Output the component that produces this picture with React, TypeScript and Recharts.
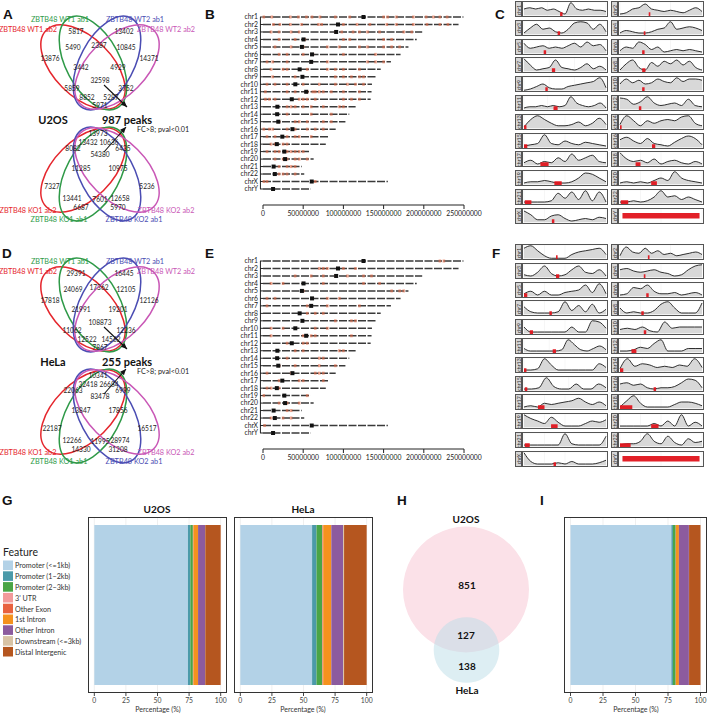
import React from 'react';
import {
  ScatterChart, Scatter, XAxis, YAxis, ReferenceLine, ReferenceArea,
  AreaChart, Area, CartesianGrid, BarChart, Bar, PieChart, Pie, Cell,
} from 'recharts';

const SANS = 'Lato, "Open Sans", "DejaVu Sans", sans-serif';
const HEAD = '"Liberation Sans", Arial, sans-serif';

// ---------------- Panel A / D : four-set Venn diagrams ----------------
const SET_NAMES_WT = ['ZBTB48 WT1 ab2', 'ZBTB48 WT1 ab1', 'ZBTB48 WT2 ab1', 'ZBTB48 WT2 ab2'];
const SET_NAMES_KO = ['ZBTB48 KO1 ab2', 'ZBTB48 KO1 ab1', 'ZBTB48 KO2 ab1', 'ZBTB48 KO2 ab2'];
const U2OS_WT_COUNTS = [5817, 13402, 5490, 2387, 10845, 13876, 14371, 3442, 4929, 32598, 5859, 3752, 8852, 5287, 5971];
const U2OS_KO_COUNTS = [13973, 13432, 10636, 8082, 6435, 54380, 11285, 10975, 7327, 5236, 13441, 7601, 12658, 6687, 5970];
const HELA_WT_COUNTS = [29391, 16445, 24069, 17362, 12105, 17818, 12126, 21991, 19201, 108873, 11062, 12236, 12522, 14562, 7867];
const HELA_KO_COUNTS = [10341, 32418, 26684, 22063, 6999, 83478, 13847, 17856, 22187, 16517, 12266, 11995, 28974, 14330, 31208];
const CELL_LINES = ['U2OS', 'HeLa'];
const COMMON_PEAKS = [987, 255];
const FILTER_TEXT = 'FC>8; pval<0.01';

// layout (pixels inside a 200x240 venn box)
const SET_COLORS = ['#e5262d', '#2f9a48', '#4b4db3', '#c957b6'];
const VENN_TOP_POS = [[76, 31], [124, 31], [73, 47], [99, 45], [126, 47], [50, 58], [149, 58], [81, 67], [118, 67], [100, 80], [72, 88], [126, 88], [87, 97], [111, 97], [100, 105]];
const VENN_BOT_POS = [[98, 133], [88, 142], [109, 142], [73, 148], [123, 148], [100, 154], [81, 168], [118, 168], [52, 186], [147, 186], [72, 198], [100, 199], [120, 198], [81, 207], [118, 207]];
const ELLIPSE_GEOM = [
  { cx: 83, cy: 67, rx: 52, ry: 29, rot: 45 },
  { cx: 93, cy: 63, rx: 51, ry: 27, rot: 62 },
  { cx: 107, cy: 63, rx: 51, ry: 27, rot: -62 },
  { cx: 117, cy: 67, rx: 52, ry: 29, rot: -45 },
];
const MIRROR_Y = 237;
const NAME_POS_TOP = [[28, 29], [60, 19], [135, 19], [166, 29]];
const NAME_POS_BOT = [[28, 210], [59, 219], [134, 219], [166, 210]];

const EllipseShape = (p: any) => {
  const d = p.payload;
  return (
    <ellipse cx={p.cx} cy={p.cy} rx={d.rx} ry={d.ry}
      transform={`rotate(${d.rot} ${p.cx} ${p.cy})`}
      fill="none" stroke={d.color} strokeWidth={1.5} />
  );
};
const TextShape = (p: any) => {
  const d = p.payload;
  return (
    <text x={p.cx} y={p.cy} textAnchor={d.anchor || 'middle'} dominantBaseline="central"
      fontSize={d.size} fontWeight={d.weight || 400} fill={d.color || '#222'} fontFamily={SANS}>
      {d.label}
    </text>
  );
};
const ArrowShape = (p: any) => {
  const d = p.payload;
  if (!d.head) return <g />;
  const a = d.angle;
  const L = 6, W = 2.6;
  const bx = p.cx - L * Math.cos(a), by = p.cy - L * Math.sin(a);
  const pts = `${p.cx},${p.cy} ${bx - W * Math.sin(a)},${by + W * Math.cos(a)} ${bx + W * Math.sin(a)},${by - W * Math.cos(a)}`;
  return <polygon points={pts} fill="#111" />;
};
const ARROWS = [
  [[104, 85], [127, 107]],
  [[104, 152], [126, 127]],
];

function VennPanel({ top, countsTop, countsBottom, namesTop, namesBottom, cell, peaks }: any) {
  const ellipses = [
    ...ELLIPSE_GEOM.map((g, i) => ({ x: g.cx, y: g.cy, rx: g.rx, ry: g.ry, rot: g.rot, color: SET_COLORS[i] })),
    ...ELLIPSE_GEOM.map((g, i) => ({ x: g.cx, y: MIRROR_Y - g.cy, rx: g.rx, ry: g.ry, rot: -g.rot, color: SET_COLORS[i] })),
  ];
  const texts = [
    ...countsTop.map((c: number, i: number) => ({ x: VENN_TOP_POS[i][0], y: VENN_TOP_POS[i][1], label: String(c), size: 6.6, color: '#222' })),
    ...countsBottom.map((c: number, i: number) => ({ x: VENN_BOT_POS[i][0], y: VENN_BOT_POS[i][1], label: String(c), size: 6.6, color: '#222' })),
    ...namesTop.map((n: string, i: number) => ({ x: NAME_POS_TOP[i][0], y: NAME_POS_TOP[i][1], label: n, size: 7.3, color: SET_COLORS[i] })),
    ...namesBottom.map((n: string, i: number) => ({ x: NAME_POS_BOT[i][0], y: NAME_POS_BOT[i][1], label: n, size: 7.3, color: SET_COLORS[i] })),
    { x: 53, y: 119, label: cell, size: 11, weight: 700, color: '#111' },
    { x: 127, y: 119, label: `${peaks} peaks`, size: 11, weight: 700, color: '#111' },
    { x: 137, y: 129, label: FILTER_TEXT, size: 7.2, anchor: 'start', color: '#222' },
  ];
  return (
    <div style={{ position: 'absolute', left: 0, top, width: 200, height: 240 }}>
      <ScatterChart width={200} height={240} margin={{ top: 0, right: 0, bottom: 0, left: 0 }}>
        <XAxis type="number" dataKey="x" domain={[0, 200]} hide />
        <YAxis type="number" dataKey="y" domain={[0, 240]} reversed hide />
        <Scatter data={ellipses} shape={EllipseShape} isAnimationActive={false} />
        {ARROWS.map((ar, k) => {
          const ang = Math.atan2(ar[1][1] - ar[0][1], ar[1][0] - ar[0][0]);
          const data = [
            { x: ar[0][0], y: ar[0][1], head: false, angle: ang },
            { x: ar[1][0], y: ar[1][1], head: true, angle: ang },
          ];
          return <Scatter key={k} data={data} line={{ stroke: '#111', strokeWidth: 1.1 }} lineType="joint" shape={ArrowShape} isAnimationActive={false} />;
        })}
        <Scatter data={texts} shape={TextShape} isAnimationActive={false} />
      </ScatterChart>
    </div>
  );
}

// ---------------- Panel B / E : peaks along chromosomes ----------------
const CHR_NAMES = ['chr1', 'chr2', 'chr3', 'chr4', 'chr5', 'chr6', 'chr7', 'chr8', 'chr9', 'chr10', 'chr11', 'chr12', 'chr13', 'chr14', 'chr15', 'chr16', 'chr17', 'chr18', 'chr19', 'chr20', 'chr21', 'chr22', 'chrX', 'chrY'];
const CHR_LEN_MB = [249.3, 243.2, 198.0, 191.2, 180.9, 171.1, 159.1, 146.4, 141.2, 135.5, 135.0, 133.9, 115.2, 107.3, 102.5, 90.4, 81.2, 78.1, 59.1, 63.0, 48.1, 51.3, 155.3, 59.4];
const CEN_MB = [125, 93.3, 91, 50.4, 48.4, 61, 59.9, 45.6, 49, 40.2, 53.7, 35.8, 17.9, 17.6, 19, 36.6, 24, 17.2, 26.5, 27.5, 13.2, 14.7, 60.6, 12.5];
const GENOME_TICKS = [0, 50000000, 100000000, 150000000, 200000000, 250000000];
const U2OS_PEAKS_MB = [
  [1, 11, 34, 44, 54, 61, 71, 90, 108, 150, 155, 166, 187, 203, 212, 220, 229],
  [13, 21, 34, 48, 69, 73, 100, 117, 133, 154, 166, 187, 204, 220, 230],
  [10, 20, 35, 45, 90, 98, 112, 120, 130, 145, 175, 185],
  [20, 40, 52, 100, 108, 150, 160],
  [15, 35, 50, 80, 95, 120, 130, 150, 160, 170],
  [20, 30, 50, 62, 100, 140],
  [5, 12, 30, 60, 80, 130, 140, 150],
  [10, 25, 30, 55, 80, 90, 100, 120],
  [12, 40, 90, 100, 110, 120, 125],
  [5, 15, 30, 50, 70, 90, 105, 115, 125],
  [3, 30, 40, 55, 62, 65, 70, 75, 85, 100, 120],
  [3, 8, 15, 45, 50, 55, 65, 100, 110, 120],
  [30, 35, 40, 50, 60, 75, 95, 100],
  [30, 60, 85],
  [20, 40, 45, 55, 75, 85],
  [1, 8, 12, 30, 40, 55, 65, 75],
  [5, 15, 24, 30, 40, 45, 60],
  [10, 15, 25, 30],
  [5, 15, 20, 30, 35, 40, 45, 50],
  [15, 25, 30, 40, 45, 55],
  [20, 30, 35, 40],
  [20, 25, 30, 40],
  [1, 5, 65],
  [],
];
const HELA_PEAKS_MB = [
  [220, 225],
  [70, 75, 80, 100, 115],
  [40, 60, 75, 90, 105, 125, 135],
  [10, 25, 50, 75, 125, 145],
  [50, 160, 170, 175],
  [5, 15, 80, 95],
  [5, 55, 80, 120],
  [55, 65, 75],
  [90, 110, 115],
  [10, 25, 65, 80],
  [10, 50, 60, 65, 110],
  [30, 50, 55],
  [40, 50, 95, 100],
  [30, 70, 75],
  [20, 40, 70, 90],
  [5, 35, 65, 70, 75],
  [20, 45, 50, 75],
  [5, 10, 20],
  [1, 55],
  [20, 30, 45],
  [30, 35],
  [10, 25, 35],
  [2],
  [],
];

const PeakShape = (p: any) => <rect x={p.cx - 1.3} y={p.cy - 1.5} width={2.6} height={3} fill="#e26a48" fillOpacity={0.6} />;
const CenShape = (p: any) => <rect x={p.cx - 2} y={p.cy - 2} width={4} height={4} fill="#111" />;

function ChromPanel({ top, peaks }: any) {
  const peakData = peaks.flatMap((arr: number[], i: number) => arr.map((m) => ({ x: m * 1e6, y: i })));
  const cenData = CEN_MB.map((c, i) => ({ x: c * 1e6, y: i }));
  return (
    <div style={{ position: 'absolute', left: 233, top, width: 256, height: 228 }}>
      <ScatterChart width={256} height={228} margin={{ top: 17, right: 25, bottom: 0, left: 0 }}>
        <XAxis type="number" dataKey="x" domain={[0, 250000000]} ticks={GENOME_TICKS} interval={0}
          tickFormatter={(v: number) => String(v)} tickSize={4} height={23}
          axisLine={{ stroke: '#222' }} tickLine={{ stroke: '#222' }}
          tick={{ fontSize: 6.8, fill: '#222', fontFamily: SANS }} />
        <YAxis type="number" dataKey="y" domain={[0, 25.14]} reversed ticks={CHR_NAMES.map((_, i) => i)} interval={0}
          tickFormatter={(v: number) => CHR_NAMES[v] || ''} width={30} axisLine={false} tickSize={3}
          tickLine={{ stroke: '#222' }} tick={{ fontSize: 6.8, fill: '#222', fontFamily: SANS }} />
        <ReferenceLine segment={[{ x: -3200000, y: 0 }, { x: -3200000, y: 23 }]} ifOverflow="visible" stroke="#222" strokeWidth={1} />
        {CHR_LEN_MB.map((len, i) => (
          <ReferenceLine key={i} segment={[{ x: 0, y: i }, { x: len * 1e6, y: i }]}
            stroke="#3a3a3a" strokeWidth={1.5} strokeDasharray="8 1.5" />
        ))}
        <Scatter data={peakData} shape={PeakShape} isAnimationActive={false} />
        <Scatter data={cenData} shape={CenShape} isAnimationActive={false} />
      </ScatterChart>
    </div>
  );
}

// ---------------- Panel C / F : peak density per chromosome ----------------
const U2OS_DENSITY = [
  [5, 6, 5, 6, 4, 5, 3, 1, 10, 5, 4, 5, 4, 4, 3],
  [1, 2, 5, 6, 9, 5, 4, 3, 4, 3, 2, 4, 6, 3],
  [1, 5, 8, 4, 5, 2, 1, 4, 9, 10, 9, 4, 8, 2],
  [1, 3, 2, 1, 1, 2, 4, 5, 10, 4, 5, 6, 5, 3],
  [8, 4, 5, 6, 4, 5, 4, 6, 8, 5, 9, 6, 7, 2],
  [2, 5, 4, 9, 7, 3, 5, 1, 2, 3, 2, 3, 2, 1],
  [10, 5, 1, 2, 3, 9, 3, 2, 1, 3, 6, 2, 4, 1],
  [1, 6, 9, 3, 1, 7, 4, 8, 6, 9, 5, 8, 3, 1],
  [0, 1, 3, 5, 2, 1, 1, 3, 4, 5, 6, 7, 10, 2],
  [5, 9, 6, 8, 5, 6, 9, 7, 6, 10, 7, 9, 9, 8],
  [1, 2, 2, 3, 2, 3, 2, 3, 10, 5, 3, 2, 3, 5, 1],
  [9, 8, 4, 6, 10, 5, 3, 4, 5, 3, 8, 3, 2],
  [1, 7, 10, 7, 4, 2, 2, 3, 5, 2, 4, 8, 3],
  [3, 10, 6, 2, 6, 4, 6, 7, 6, 9, 10, 4, 2],
  [1, 2, 3, 10, 3, 2, 5, 3, 2, 4, 3, 2, 1],
  [6, 8, 5, 3, 7, 3, 2, 1, 4, 7, 9, 7, 2],
  [2, 4, 1, 3, 2, 6, 3, 9, 4, 6, 8, 3, 2],
  [10, 5, 3, 4, 2, 5, 1, 3, 4, 2, 1, 3, 1],
  [1, 2, 2, 3, 2, 1, 1, 2, 5, 9, 8, 5, 2],
  [1, 2, 1, 2, 1, 3, 5, 3, 10, 5, 3, 2, 1],
  [1, 1, 1, 1, 2, 8, 4, 9, 3, 10, 2, 9, 1],
  [1, 1, 2, 1, 2, 5, 10, 5, 6, 3, 5, 3, 1],
  [9, 6, 2, 2, 5, 6, 3, 1, 2, 3, 2, 4, 3],
  [],
];
const U2OS_MARKS = [[0.44, 0.47], [0.35, 0.37], [0.41, 0.44], [0.29, 0.31], [0.24, 0.27], [0.27, 0.3], [0.34, 0.38], [0.27, 0.31], [0.26, 0.29], [0.27, 0.3], [0.36, 0.41], [0.23, 0.26], [0, 0.03], [0, 0.02], [0, 0.04], [0.39, 0.43], [0.2, 0.3], [0.19, 0.25], [0.37, 0.46], [0.38, 0.45], [0.01, 0.09], [0.01, 0.1], [0.34, 0.37], [0.03, 0.97]];
const HELA_DENSITY = [
  [8, 10, 6, 2, 0, 0, 0, 3, 5, 6, 7, 8, 3],
  [2, 9, 5, 4, 8, 4, 6, 3, 4, 2, 3, 4, 5, 3],
  [2, 1, 4, 9, 3, 1, 2, 6, 9, 4, 3, 6, 1],
  [6, 7, 5, 4, 5, 6, 4, 3, 1, 2, 6, 9, 10],
  [2, 4, 1, 4, 1, 1, 3, 4, 5, 9, 3, 10, 2],
  [1, 2, 7, 6, 9, 4, 2, 2, 3, 1, 2, 3, 1],
  [6, 2, 1, 1, 1, 2, 10, 3, 7, 2, 8, 1, 4],
  [5, 1, 2, 1, 1, 3, 8, 10, 5, 1, 1, 1, 9],
  [5, 1, 1, 1, 1, 1, 1, 5, 1, 1, 10, 9, 4],
  [3, 4, 3, 5, 2, 1, 9, 4, 5, 5, 5, 5],
  [3, 1, 1, 1, 1, 1, 2, 10, 6, 2, 1, 3, 5, 2],
  [1, 1, 2, 4, 3, 7, 10, 1, 1, 1, 3, 3, 3],
  [1, 1, 2, 10, 5, 1, 1, 1, 1, 1, 1, 6, 3],
  [2, 10, 4, 6, 5, 3, 4, 3, 5, 4, 10, 3],
  [1, 1, 2, 10, 3, 1, 1, 5, 1, 1, 5, 2],
  [5, 6, 4, 5, 2, 1, 2, 2, 3, 6, 9, 8, 2],
  [1, 2, 1, 4, 3, 4, 5, 6, 8, 5, 3, 5, 2],
  [1, 6, 10, 4, 1, 1, 1, 1, 3, 5, 5, 4, 2],
  [10, 7, 5, 3, 8, 4, 1, 1, 1, 3, 5, 4, 6],
  [1, 1, 1, 1, 1, 3, 1, 5, 1, 10, 1, 4, 1],
  [1, 1, 1, 1, 1, 1, 10, 2, 1, 1, 1, 1, 8],
  [1, 2, 2, 4, 10, 4, 2, 8, 3, 1, 6, 3, 4],
  [10, 3, 1, 1, 1, 2, 1, 3, 1, 1, 1, 2, 4],
  [],
];
const HELA_MARKS = [[0.39, 0.41], [0.34, 0.36], [0.39, 0.43], [0.29, 0.31], [0, 0.04], [0.32, 0.35], [0.31, 0.34], [0.26, 0.29], [0.07, 0.11], [0.29, 0.32], [0.35, 0.39], [0.14, 0.2], [0, 0.03], [0, 0.04], [0.01, 0.04], [0.41, 0.44], [0.17, 0.25], [0, 0.15], [0.33, 0.41], [0.38, 0.47], [0.01, 0.07], [0, 0.13], [0.36, 0.39], [0.03, 0.97]];

function MiniPanel({ left, top, name, values, mark }: any) {
  const n = values.length;
  const full = n === 0;
  const data = full ? [{ i: 0 }, { i: 1 }] : values.map((v: number, i: number) => ({ i, v }));
  const xmax = full ? 1 : n - 1;
  return (
    <div style={{ position: 'absolute', left, top, width: 93, height: 16 }}>
      <div style={{ position: 'absolute', left: 0, top: 0, width: 7, height: 16, background: '#d6d6d6', border: '1px solid #555', boxSizing: 'border-box', overflow: 'hidden' }}>
        <div style={{ position: 'absolute', left: -7, top: 4.5, width: 20, height: 6, lineHeight: '6px', fontSize: 5.2, color: '#333', textAlign: 'center', transform: 'rotate(-90deg)', fontFamily: SANS }}>{name}</div>
      </div>
      <div style={{ position: 'absolute', left: 7, top: 0, width: 86, height: 16, border: '1px solid #555', boxSizing: 'border-box', background: '#fff' }}>
        <AreaChart width={84} height={14} data={data} margin={{ top: 0, right: 1, bottom: 0, left: 1 }}>
          <CartesianGrid stroke="#ececec" strokeWidth={0.5} />
          <XAxis type="number" dataKey="i" domain={[0, xmax]} hide />
          <YAxis type="number" domain={[-0.6, 10.6]} hide allowDataOverflow />
          {!full && <Area type="monotone" dataKey="v" baseValue={0} stroke="#1a1a1a" strokeWidth={0.9} fill="#d8d8d8" fillOpacity={1} isAnimationActive={false} />}
          <ReferenceArea x1={mark[0] * xmax} x2={Math.max(mark[1], mark[0] + 0.02) * xmax}
            y1={full ? 3 : -0.6} y2={full ? 7.5 : 2.4} fill="#e0141c" fillOpacity={0.95} stroke="none" ifOverflow="visible" />
        </AreaChart>
      </div>
    </div>
  );
}

function MiniGrid({ top, values, marks }: any) {
  return (
    <>
      {CHR_NAMES.map((nm, k) => {
        const row = Math.floor(k / 2), col = k % 2;
        return <MiniPanel key={nm} left={col === 0 ? 515 : 611} top={top + row * 18.8} name={nm} values={values[k]} mark={marks[k]} />;
      })}
    </>
  );
}

// ---------------- Panel G / I : genomic annotation ----------------
const FEATURES = ['Promoter (<=1kb)', 'Promoter (1\u22122kb)', 'Promoter (2\u22123kb)', "3' UTR", 'Other Exon', '1st Intron', 'Other Intron', 'Downstream (<=3kb)', 'Distal Intergenic'];
const FEATURE_COLORS = ['#b3d2e7', '#4b9aa9', '#4aa546', '#f29a9a', '#e8623f', '#f5921e', '#8c5b9e', '#d8c3a5', '#b5561f'];
const U2OS_ANNO = [74.1, 1.9, 2.0, 0.2, 0.3, 3.6, 5.6, 0.1, 12.2];
const HELA_ANNO = [56.8, 3.5, 4.5, 0.3, 0.5, 6.4, 9.3, 0.8, 17.9];
const COMMON_ANNO = [77.6, 1.2, 2.1, 0.1, 0.1, 2.3, 7.7, 0.1, 8.8];
const PCT_TICKS = [0, 25, 50, 75, 100];

function AnnoBar({ left, width, values }: any) {
  const row: any = { name: 'peaks' };
  FEATURES.forEach((f, i) => { row[f] = values[i]; });
  return (
    <div style={{ position: 'absolute', left, top: 517, width, height: 192 }}>
      <BarChart width={width} height={192} data={[row]} layout="vertical" margin={{ top: 0, right: 0, bottom: 0, left: 0 }} barCategoryGap={8}>
        <CartesianGrid horizontal={false} stroke="#efefef" />
        <XAxis type="number" domain={[-5, 105]} ticks={PCT_TICKS} interval={0} axisLine={false} tickSize={3}
          tickLine={{ stroke: '#444' }} tick={{ fontSize: 6.8, fill: '#444', fontFamily: SANS }} height={16} />
        <YAxis type="category" dataKey="name" hide />
        {FEATURES.map((f, i) => (
          <Bar key={f} dataKey={f} stackId="s" fill={FEATURE_COLORS[i]} isAnimationActive={false} />
        ))}
      </BarChart>
      <div style={{ position: 'absolute', left: 0, top: 0, width, height: 176, border: '1px solid #333', boxSizing: 'border-box', pointerEvents: 'none' }} />
    </div>
  );
}

// ---------------- Panel H : overlap of common peaks ----------------
const OVERLAP_ONLY_U2OS = 851;
const OVERLAP_BOTH = 127;
const OVERLAP_ONLY_HELA = 138;

function OverlapVenn() {
  const totU = OVERLAP_ONLY_U2OS + OVERLAP_BOTH;
  const totH = OVERLAP_ONLY_HELA + OVERLAP_BOTH;
  const rU = 63;
  const rH = rU * Math.sqrt(totH / totU);
  return (
    <div style={{ position: 'absolute', left: 396, top: 515, width: 140, height: 180 }}>
      <PieChart width={140} height={180} margin={{ top: 0, right: 0, bottom: 0, left: 0 }}>
        <Pie data={[{ name: 'U2OS', value: totU }]} dataKey="value" cx={70} cy={74.5} innerRadius={0} outerRadius={rU}
          stroke="none" isAnimationActive={false}>
          <Cell fill="#fbe1e8" />
        </Pie>
        <Pie data={[{ name: 'HeLa', value: totH }]} dataKey="value" cx={70.5} cy={135} innerRadius={0} outerRadius={rH}
          stroke="none" isAnimationActive={false}>
          <Cell fill="#bcdde8" fillOpacity={0.5} />
        </Pie>
      </PieChart>
    </div>
  );
}

const PANEL_LETTERS = [['A', 3, 19], ['B', 205, 19], ['C', 495, 19], ['D', 2, 258], ['E', 205, 258], ['F', 492, 258], ['G', 2, 505], ['H', 397, 505], ['I', 540, 505]];

export default function App() {
  return (
    <div style={{ position: 'absolute', left: 0, top: 0, width: 709, height: 715, background: '#fff', overflow: 'hidden', fontFamily: SANS }}>
      <VennPanel top={0} countsTop={U2OS_WT_COUNTS} countsBottom={U2OS_KO_COUNTS} namesTop={SET_NAMES_WT} namesBottom={SET_NAMES_KO} cell={CELL_LINES[0]} peaks={COMMON_PEAKS[0]} />
      <VennPanel top={242} countsTop={HELA_WT_COUNTS} countsBottom={HELA_KO_COUNTS} namesTop={SET_NAMES_WT} namesBottom={SET_NAMES_KO} cell={CELL_LINES[1]} peaks={COMMON_PEAKS[1]} />
      <ChromPanel top={0} peaks={U2OS_PEAKS_MB} />
      <ChromPanel top={244} peaks={HELA_PEAKS_MB} />
      <MiniGrid top={1} values={U2OS_DENSITY} marks={U2OS_MARKS} />
      <MiniGrid top={244} values={HELA_DENSITY} marks={HELA_MARKS} />
      <AnnoBar left={88} width={139} values={U2OS_ANNO} />
      <AnnoBar left={234} width={139} values={HELA_ANNO} />
      <AnnoBar left={564} width={143} values={COMMON_ANNO} />
      <OverlapVenn />
      <svg width={709} height={715} style={{ position: 'absolute', left: 0, top: 0, pointerEvents: 'none' }}>
        {PANEL_LETTERS.map(([t, x, y]) => (
          <text key={t as string} x={x as number} y={y as number} fontSize={13.5} fontWeight={700} fontFamily={HEAD} fill="#111">{t}</text>
        ))}
        <text x={157} y={513} textAnchor="middle" fontSize={10} fontWeight={700} fontFamily={SANS} fill="#111">{CELL_LINES[0]}</text>
        <text x={303} y={513} textAnchor="middle" fontSize={10} fontWeight={700} fontFamily={SANS} fill="#111">{CELL_LINES[1]}</text>
        {[158, 303, 636].map((x) => (
          <text key={x} x={x} y={712} textAnchor="middle" fontSize={7} fontFamily={SANS} fill="#333">Percentage (%)</text>
        ))}
        <text x={3} y={556} fontSize={10.5} fontFamily={SANS} fill="#222">Feature</text>
        {FEATURES.map((f, i) => (
          <g key={f}>
            <rect x={3} y={560.5 + i * 10.8} width={10} height={9.6} fill={FEATURE_COLORS[i]} />
            <text x={15} y={568.3 + i * 10.8} fontSize={7.2} fontFamily={SANS} fill="#333">{f}</text>
          </g>
        ))}
        <text x={466} y={523} textAnchor="middle" fontSize={10} fontWeight={700} fontFamily={SANS} fill="#111">{CELL_LINES[0]}</text>
        <text x={467} y={589} textAnchor="middle" fontSize={10} fontWeight={700} fontFamily={SANS} fill="#111">{OVERLAP_ONLY_U2OS}</text>
        <text x={466} y={639} textAnchor="middle" fontSize={10} fontWeight={700} fontFamily={SANS} fill="#111">{OVERLAP_BOTH}</text>
        <text x={467} y={670} textAnchor="middle" fontSize={10} fontWeight={700} fontFamily={SANS} fill="#111">{OVERLAP_ONLY_HELA}</text>
        <text x={467} y={694} textAnchor="middle" fontSize={10} fontWeight={700} fontFamily={SANS} fill="#111">{CELL_LINES[1]}</text>
      </svg>
    </div>
  );
}
